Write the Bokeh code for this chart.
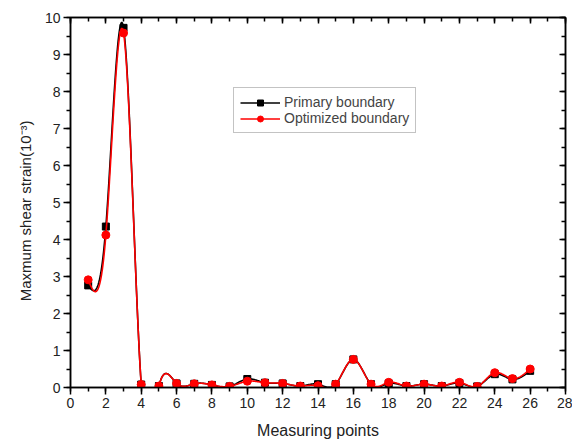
import numpy as np
from bokeh.plotting import figure
from bokeh.models import (LinearAxis, SingleIntervalTicker, Range1d, Legend, LegendItem,
                          CustomJSTickFormatter)
from bokeh.embed import file_html
from bokeh.resources import INLINE

points = [1, 2, 3, 4, 5, 6, 7, 8, 9, 10, 11, 12, 13, 14, 15, 16, 17, 18, 19, 20, 21, 22, 23, 24, 25, 26]
primary = [2.76, 4.35, 9.72, 0.08, 0.04, 0.11, 0.10, 0.07, 0.03, 0.23, 0.13, 0.11, 0.04, 0.09, 0.09, 0.76, 0.09, 0.11, 0.04, 0.09, 0.04, 0.12, 0.03, 0.36, 0.22, 0.45]
optimized = [2.91, 4.12, 9.58, 0.08, 0.04, 0.11, 0.10, 0.07, 0.03, 0.17, 0.13, 0.11, 0.04, 0.05, 0.09, 0.76, 0.09, 0.14, 0.04, 0.09, 0.04, 0.14, 0.03, 0.40, 0.24, 0.50]
x_ticks_interval = 2
y_ticks_interval = 1


def natural_spline(x, y, per=30):
    x = np.asarray(x, float)
    y = np.asarray(y, float)
    n = len(x)
    h = np.diff(x)
    A = np.zeros((n, n))
    b = np.zeros(n)
    A[0, 0] = 1
    A[-1, -1] = 1
    for i in range(1, n - 1):
        A[i, i - 1] = h[i - 1]
        A[i, i] = 2 * (h[i - 1] + h[i])
        A[i, i + 1] = h[i]
        b[i] = 6 * ((y[i + 1] - y[i]) / h[i] - (y[i] - y[i - 1]) / h[i - 1])
    M = np.linalg.solve(A, b)
    xs, ys = [], []
    for i in range(n - 1):
        t = np.linspace(x[i], x[i + 1], per, endpoint=(i == n - 2))
        hi = h[i]
        s = (M[i] * (x[i + 1] - t) ** 3 / (6 * hi) + M[i + 1] * (t - x[i]) ** 3 / (6 * hi)
             + (y[i] / hi - M[i] * hi / 6) * (x[i + 1] - t)
             + (y[i + 1] / hi - M[i + 1] * hi / 6) * (t - x[i]))
        xs.extend(t)
        ys.extend(s)
    return xs, ys


FONT = "Liberation Sans"

p = figure(width=572, height=444, x_range=Range1d(0, 28), y_range=Range1d(0, 10),
           output_backend="svg", toolbar_location=None,
           min_border_left=70, min_border_right=7, min_border_top=17, min_border_bottom=57)
p.background_fill_color = "white"
p.border_fill_color = "white"
p.grid.visible = False
p.outline_line_color = "black"
p.outline_line_width = 1.5

for ax, interval in ((p.xaxis[0], x_ticks_interval), (p.yaxis[0], y_ticks_interval)):
    ax.ticker = SingleIntervalTicker(interval=interval, num_minor_ticks=2)
    ax.major_tick_out = 7
    ax.major_tick_in = 0
    ax.minor_tick_out = 4
    ax.minor_tick_in = 0
    ax.axis_line_width = 1.5
    ax.axis_line_color = "black"
    ax.major_tick_line_width = 1.5
    ax.minor_tick_line_width = 1.5
    ax.major_label_text_font = FONT
    ax.major_label_text_font_size = "14px"
    ax.major_label_text_color = "#222222"
    ax.axis_label_text_font = FONT
    ax.axis_label_text_font_style = "normal"
    ax.axis_label_text_color = "#222222"
    ax.major_label_standoff = 3

p.xaxis.axis_label = "Measuring points"
p.xaxis.axis_label_text_font_size = "16px"
p.xaxis.axis_label_standoff = 11
p.yaxis.axis_label = "Maxmum shear strain(10\u207b\u00b3)\u00a0\u00a0\u00a0\u00a0"
p.yaxis.axis_label_text_font_size = "15px"
p.yaxis.axis_label_standoff = 8

for side, interval in (("above", x_ticks_interval), ("right", y_ticks_interval)):
    ax = LinearAxis(ticker=SingleIntervalTicker(interval=interval, num_minor_ticks=2),
                    formatter=CustomJSTickFormatter(code="return ''"),
                    major_label_text_color=None, major_label_standoff=0,
                    major_tick_in=6, major_tick_out=0, minor_tick_in=4, minor_tick_out=0,
                    axis_line_width=1.5, major_tick_line_width=1.5, minor_tick_line_width=1.5)
    p.add_layout(ax, side)

xs1, ys1 = natural_spline(points, primary)
xs2, ys2 = natural_spline(points, optimized)

l1 = p.line(xs1, ys1, line_color="black", line_width=1.6)
m1 = p.scatter(points, primary, marker="square", size=7, fill_color="black", line_color="black")
l2 = p.line(xs2, ys2, line_color="red", line_width=1.6)
m2 = p.scatter(points, optimized, marker="circle", size=8, fill_color="red", line_color="red")

legend = Legend(items=[LegendItem(label="Primary boundary", renderers=[l1, m1]),
                       LegendItem(label="Optimized boundary", renderers=[l2, m2])],
                location=(163, 254), label_text_font=FONT, label_text_font_size="14px",
                glyph_width=40, glyph_height=15, label_height=15, spacing=0, padding=6,
                margin=0, border_line_color="#888888", border_line_width=1,
                label_standoff=4, background_fill_alpha=1)
p.add_layout(legend, "center")

open("out.html", "w").write(file_html(p, INLINE))
